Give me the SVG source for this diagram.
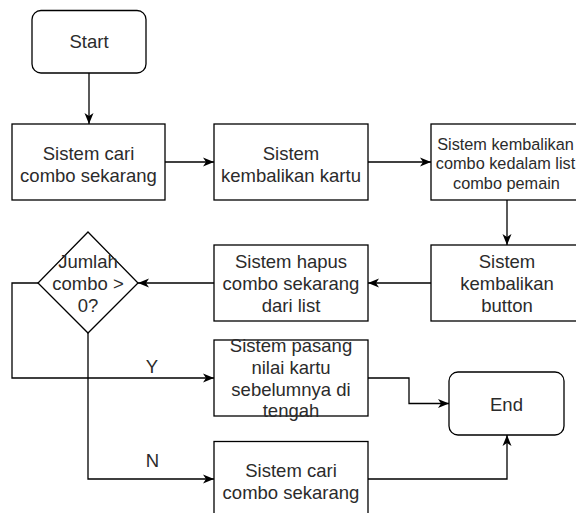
<svg xmlns="http://www.w3.org/2000/svg" width="576" height="513" viewBox="0 0 576 513">
<style>
.box{fill:#fff;stroke:#000;stroke-width:1.3}
.t{font-family:"Liberation Sans",Arial,sans-serif;font-size:18.5px;fill:#2b2b2b;text-anchor:middle}
.s{font-size:16.3px}
.c{fill:none;stroke:#000;stroke-width:1.3}
</style>
<defs>
<marker id="a" markerUnits="userSpaceOnUse" markerWidth="12" markerHeight="10" refX="11" refY="5" orient="auto">
<path d="M0,0.5 L11,5 L0,9.5 L3,5 Z" fill="#000"/>
</marker>
</defs>
<rect width="576" height="513" fill="#fff"/>
<g id="connectors">
<path class="c" d="M89,73 V124" marker-end="url(#a)"/>
<path class="c" d="M165,162 H214" marker-end="url(#a)"/>
<path class="c" d="M368,162 H431" marker-end="url(#a)"/>
<path class="c" d="M507,200 V245" marker-end="url(#a)"/>
<path class="c" d="M431,283 H368" marker-end="url(#a)"/>
<path class="c" d="M214,283 H138" marker-end="url(#a)"/>
<path class="c" d="M38,283 H12 V378 H214" marker-end="url(#a)"/>
<path class="c" d="M88,333 V479 H214" marker-end="url(#a)"/>
<path class="c" d="M368,378 H409 V403.5 H449" marker-end="url(#a)"/>
<path class="c" d="M368,479 H507 V435" marker-end="url(#a)"/>
<text class="t" x="152" y="373">Y</text>
<text class="t" x="152.5" y="467">N</text>
</g>
<g id="start">
<rect class="box" x="32" y="10.5" width="114" height="62.5" rx="9"/>
<text class="t" x="89" y="48">Start</text>
</g>
<g id="cari1">
<rect class="box" x="12" y="124" width="153" height="76"/>
<text class="t" x="88.5" y="160">Sistem cari</text>
<text class="t" x="88.5" y="182">combo sekarang</text>
</g>
<g id="kembalikan-kartu">
<rect class="box" x="214" y="124" width="154" height="76"/>
<text class="t" x="291" y="160">Sistem</text>
<text class="t" x="291" y="182">kembalikan kartu</text>
</g>
<g id="kembalikan-combo">
<rect class="box" x="431" y="124" width="153" height="76"/>
<text class="t s" x="505.5" y="149.5">Sistem kembalikan</text>
<text class="t s" x="505.5" y="169">combo kedalam list</text>
<text class="t s" x="506.5" y="188.5">combo pemain</text>
</g>
<g id="kembalikan-button">
<rect class="box" x="431" y="245" width="153" height="76"/>
<text class="t" x="507" y="268">Sistem</text>
<text class="t" x="507" y="290">kembalikan</text>
<text class="t" x="507" y="312">button</text>
</g>
<g id="hapus">
<rect class="box" x="214" y="245" width="154" height="76"/>
<text class="t" x="291" y="268">Sistem hapus</text>
<text class="t" x="291" y="290">combo sekarang</text>
<text class="t" x="291" y="312">dari list</text>
</g>
<g id="decision">
<path class="box" d="M88,232 L138,283 L88,333 L38,283 Z"/>
<text class="t" x="88" y="268">Jumlah</text>
<text class="t" x="88" y="290">combo &gt;</text>
<text class="t" x="88" y="312">0?</text>
</g>
<g id="pasang">
<rect class="box" x="214" y="340" width="154" height="76"/>
<text class="t" x="291" y="351.5">Sistem pasang</text>
<text class="t" x="291" y="373.5">nilai kartu</text>
<text class="t" x="291" y="395.5">sebelumnya di</text>
<text class="t" x="291" y="417">tengah</text>
</g>
<g id="cari2">
<rect class="box" x="214" y="441.5" width="154" height="76"/>
<text class="t" x="291" y="477">Sistem cari</text>
<text class="t" x="291" y="499">combo sekarang</text>
</g>
<g id="end">
<rect class="box" x="449" y="372" width="115" height="63" rx="9"/>
<text class="t" x="506.5" y="411">End</text>
</g>
</svg>
